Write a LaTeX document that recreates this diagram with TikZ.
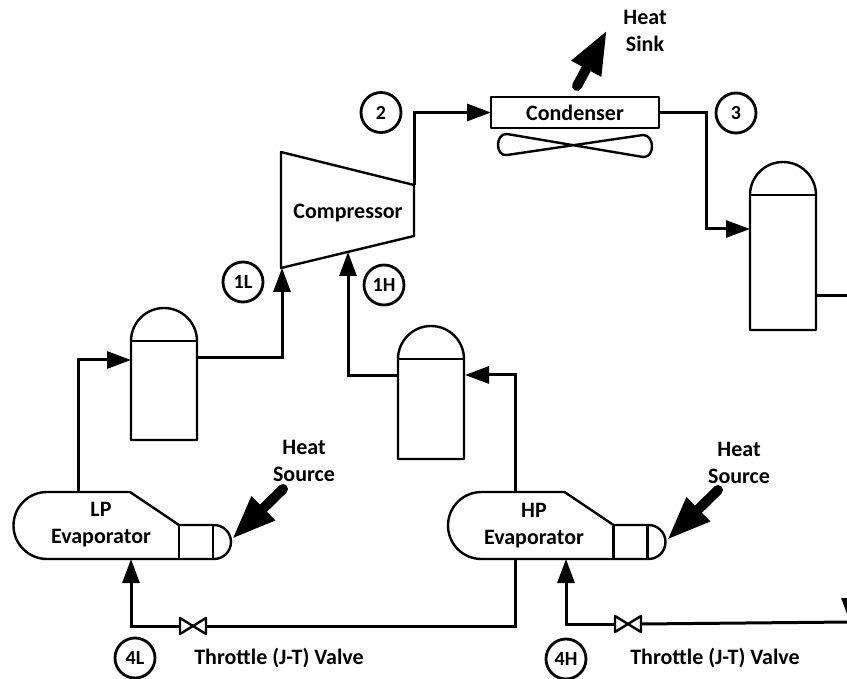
\documentclass[tikz,border=0pt]{standalone}
\usepackage{fontspec}
\setmainfont{Carlito}
\usetikzlibrary{arrows.meta,positioning,calc}
\tikzset{
  unit/.style={draw, line width=2.4pt, line join=round},
  flow/.style={line width=3pt, line join=miter, -{Triangle[length=24pt,width=17pt]}},
  pipe/.style={line width=3pt, line join=miter},
  heat/.style={line width=10pt, line cap=round, -{Triangle[length=44pt,width=31pt]}},
  tag/.style={font=\fontsize{22}{27}\selectfont\bfseries, align=center, inner sep=0pt},
  statept/.style={draw, circle, line width=2.8pt, minimum size=40pt, inner sep=0pt, font=\fontsize{20}{24}\selectfont\bfseries},
}
\newcommand{\drumpt}[3]{% x, dome top y, bottom y
  \draw[unit] (#1,#2+33) arc[start angle=180,end angle=360,radius=33] -- (#1+66,#3) -- (#1,#3) -- cycle;
  \draw[unit] (#1,#2+33) -- (#1+66,#2+33);
}
\newcommand{\evappt}[1]{% x shift
  \draw[unit, shift={(#1,0)}] (47,559) arc[start angle=90,end angle=270,radius=33.5] -- (130,492) -- (179,525) -- (214,525)
    arc[start angle=270,end angle=450,radius=17] -- cycle;
  \draw[unit, shift={(#1,0)}] (179,525) -- (179,559) (213,525) -- (213,559);
}
\newcommand{\valvept}[2]{%
  \draw[unit] (#1-13,#2-8) -- (#1+13,#2+8) -- (#1+13,#2-8) -- (#1-13,#2+8) -- cycle;
}
\begin{document}
\begin{tikzpicture}[x=1pt, y=-1pt]
  \useasboundingbox (0,0) rectangle (847,679);
  \clip (0,0) rectangle (847,679);
  % compressor
  \draw[unit] (281,152) -- (414,185) -- (414,236) -- (281,268) -- cycle;
  \node[tag] (comp) at (348,213) {Compressor};
  % condenser and fan
  \node[unit, minimum width=168pt, minimum height=31pt, inner sep=0pt, tag] (cond) at (575,112.5) {Condenser};
  \draw[unit] (507,134) -- (643,157) .. controls (655,158) and (655,135) .. (643,135)
    -- (507,155) .. controls (495,157) and (495,133) .. (507,134) -- cycle;
  % drums
  \drumpt{750}{162}{330}
  \drumpt{131}{308}{440}
  \drumpt{398}{326}{459}
  % evaporators
  \evappt{0}
  \evappt{434.5}
  \node[tag] (lpevap) at (101,525) {LP\\Evaporator};
  \node[tag] (hpevap) at (534,526) {HP\\Evaporator};
  % valves
  \valvept{193}{626}
  \valvept{628}{624}
  \coordinate (compout) at (414,185);
  \coordinate (compinL) at (282,268);
  \coordinate (compinH) at (348,252);
  \coordinate (condin) at (491,112.5);
  \coordinate (condout) at (659,112.5);
  \coordinate (drumin) at (750,229);
  \coordinate (drumout) at (816,296);
  \coordinate (lpin) at (131,360);
  \coordinate (lpout) at (197,358);
  \coordinate (hpin) at (465,375);
  \coordinate (hpout) at (398,376);
  \coordinate (lpevapout) at (78,492);
  \coordinate (lpevapin) at (131,559);
  \coordinate (hpevapout) at (515,492);
  \coordinate (hpevapdrain) at (515,559);
  \coordinate (hpevapin) at (566,559);
  \coordinate (lpvalveL) at (180,626);
  \coordinate (lpvalveR) at (206,626);
  \coordinate (hpvalveL) at (615,624);
  \coordinate (hpvalveR) at (641,624);
  \coordinate (edgetop) at (850,296);
  \coordinate (edgebot) at (850,622);
  % flow lines
  \draw[flow] (compout) |- (condin);
  \draw[flow] (condout) -| ($(drumin)+(-44,0)$) -- (drumin);
  \draw[pipe] (drumout) -- (edgetop);
  \draw[flow] (edgetop) -- (edgebot);
  \draw[pipe] (edgebot) -- (hpvalveR);
  \draw[flow] (hpvalveL) -| (hpevapin);
  \draw[pipe] (hpevapdrain) |- (lpvalveR);
  \draw[flow] (lpvalveL) -| (lpevapin);
  \draw[flow] (lpevapout) |- (lpin);
  \draw[flow] (lpout) -| (compinL);
  \draw[flow] (hpevapout) |- (hpin);
  \draw[flow] (hpout) -| (compinH);
  % heat arrows
  \coordinate (sinkstart) at (577,86);
  \coordinate (sinktip) at (607,30);
  \coordinate (srcLstart) at (283,489);
  \coordinate (srcLtip) at (232,539);
  \coordinate (srcHstart) at (718,490);
  \coordinate (srcHtip) at (667,540);
  \draw[heat] (sinkstart) -- (sinktip);
  \draw[heat] (srcLstart) -- (srcLtip);
  \draw[heat] (srcHstart) -- (srcHtip);
  \node[tag] (sinktxt) at (645,31) {Heat\\Sink};
  \node[tag] (srcLtxt) at (304,461) {Heat\\Source};
  \node[tag] (srcHtxt) at (739,463) {Heat\\Source};
  \node[tag] (thrL) at (279,658) {Throttle (J-T) Valve};
  \node[tag] (thrH) at (715,658) {Throttle (J-T) Valve};
  % state points
  \node[statept] (pt2) at (381,112.5) {2};
  \node[statept] (pt3) at (736,113) {3};
  \node[statept] (pt1L) at (243,282) {1L};
  \node[statept] (pt1H) at (384,285) {1H};
  \node[statept] (pt4L) at (135,658) {4L};
  \node[statept] (pt4H) at (566,659) {4H};
\end{tikzpicture}
\end{document}
